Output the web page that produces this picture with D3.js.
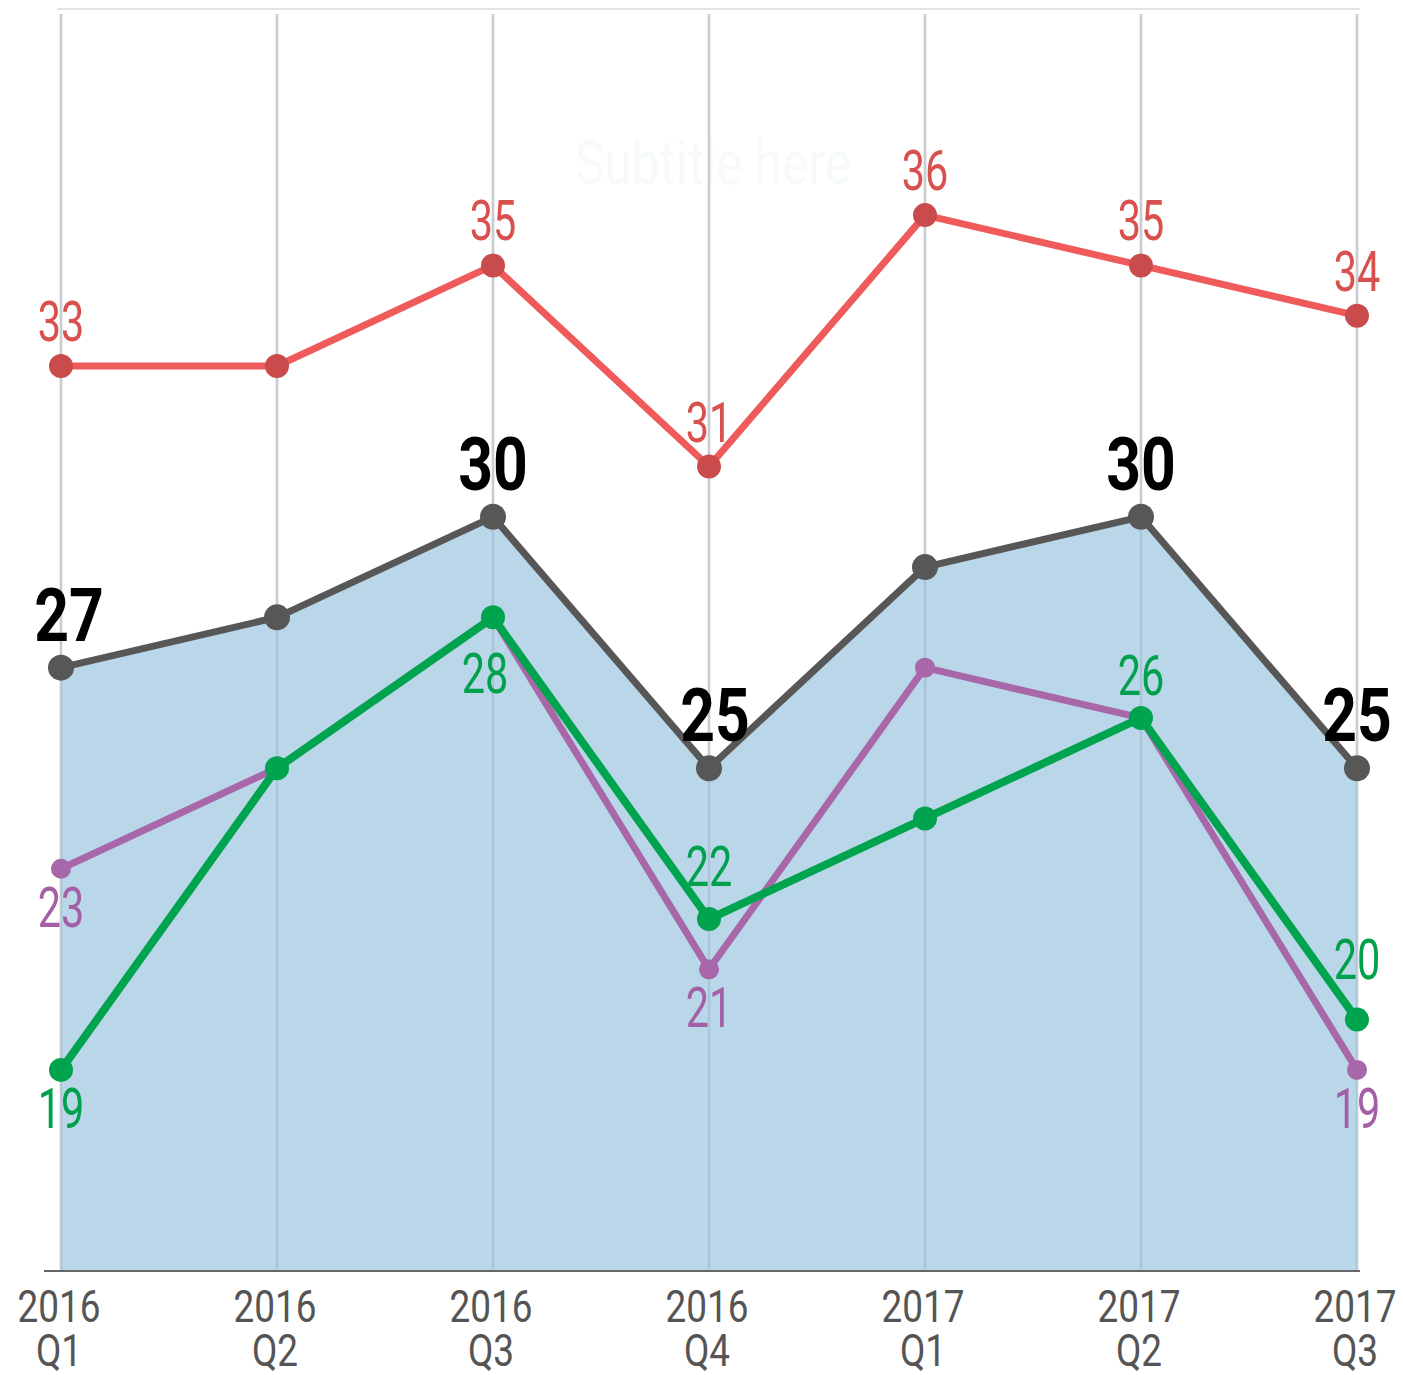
<!DOCTYPE html>
<html lang="en">
<head>
  <meta charset="UTF-8">
  <title>Quarterly lines</title>
  <script src="https://d3js.org/d3.v7.min.js"></script>
  <style>
    body { margin: 0; background: #fff; }
    text { font-family: Roboto, "Noto Sans", sans-serif; }
  </style>
</head>
<body>
<div id="graph-container"></div>

<script>
// quarters on the x axis
const years = ["2016", "2016", "2016", "2016", "2017", "2017", "2017"];
const quarters = ["Q1", "Q2", "Q3", "Q4", "Q1", "Q2", "Q3"];

// series values
const totalValues  = [27, 28, 30, 25, 29, 30, 25];
const redValues    = [33, 33, 35, 31, 36, 35, 34];
const purpleValues = [23, 25, 28, 21, 27, 26, 19];
const greenValues  = [19, 25, 28, 22, 24, 26, 20];

// which points get a value label ("a" above, "b" below)
const totalLabels  = ["a", "", "a", "a", "", "a", "a"];
const redLabels    = ["a", "", "a", "a", "a", "a", "a"];
const purpleLabels = ["b", "", "", "b", "", "", "b"];
const greenLabels  = ["b", "", "b", "a", "", "a", "a"];

// hand nudges for a few crowded labels [dx, dy]
const greenNudge = [[0, 0], [0, 0], [-8, 18], [0, -8], [0, 0], [0, 2], [0, -16]];
const totalNudge = [[8, 0], [0, 0], [0, 0], [6, 0], [0, 0], [0, 0], [0, 0]];

const width = 1403, height = 1375;

const svg = d3.select("#graph-container")
  .append("svg")
  .attr("width", width)
  .attr("height", height);

const x = d3.scalePoint()
  .domain(d3.range(years.length))
  .range([61, 1357]);

const y = d3.scaleLinear()
  .domain([15, 40])
  .range([1271, 14]);

// faint subtitle
svg.append("text")
  .attr("transform", "translate(713,184) scale(0.8,1)")
  .attr("text-anchor", "middle")
  .style("font-size", "62px")
  .style("fill", "#f7fbf7")
  .text("Subtitle here");

// top rule
svg.append("line")
  .attr("x1", 57).attr("x2", 1360)
  .attr("y1", 9).attr("y2", 9)
  .style("stroke", "#e2e2e2").style("stroke-width", 2);

// vertical gridlines
svg.selectAll(".grid")
  .data(x.domain())
  .enter()
  .append("line")
  .attr("class", "grid")
  .attr("x1", d => x(d)).attr("x2", d => x(d))
  .attr("y1", 14).attr("y2", y(15))
  .style("stroke", "#dcdcdc").style("stroke-width", 3);

// area under total
const area = d3.area()
  .x((d, i) => x(i))
  .y0(y(15))
  .y1(d => y(d));

svg.append("path")
  .datum(totalValues)
  .attr("d", area)
  .style("fill", "#a3c9e2")
  .style("fill-opacity", 0.75);

// gridlines showing through the area
svg.selectAll(".grid2")
  .data(x.domain())
  .enter()
  .append("line")
  .attr("x1", d => x(d)).attr("x2", d => x(d))
  .attr("y1", 14).attr("y2", y(15))
  .style("stroke", "#9fb7c8").style("stroke-width", 2)
  .style("opacity", 0.35);

// axis line
svg.append("line")
  .attr("x1", 44).attr("x2", 1360)
  .attr("y1", y(15)).attr("y2", y(15))
  .style("stroke", "#666").style("stroke-width", 2);

const line = d3.line()
  .x((d, i) => x(i))
  .y(d => y(d));

const noNudge = totalValues.map(() => [0, 0]);

const series = [
  { values: redValues,    labels: redLabels,    nudge: noNudge,    line: "#ef5b5b", dot: "#c94b4b", text: "#d9514f", width: 7, r: 12, size: 56, weight: 400, scale: 0.74 },
  { values: purpleValues, labels: purpleLabels, nudge: noNudge,    line: "#a867a9", dot: "#a867a9", text: "#a45fa6", width: 7, r: 10, size: 56, weight: 400, scale: 0.74 },
  { values: greenValues,  labels: greenLabels,  nudge: greenNudge, line: "#00a34e", dot: "#00a34e", text: "#00a04c", width: 8, r: 12, size: 56, weight: 400, scale: 0.74 },
  { values: totalValues,  labels: totalLabels,  nudge: totalNudge, line: "#575757", dot: "#575757", text: "#000000", width: 7, r: 13, size: 74, weight: 700, scale: 0.82 }
];

series.forEach(s => {
  svg.append("path")
    .datum(s.values)
    .attr("d", line)
    .style("fill", "none")
    .style("stroke", s.line)
    .style("stroke-width", s.width)
    .style("stroke-linejoin", "round");

  svg.selectAll(null)
    .data(s.values)
    .enter()
    .append("circle")
    .attr("cx", (d, i) => x(i))
    .attr("cy", d => y(d))
    .attr("r", s.r)
    .style("fill", s.dot);
});

series.forEach(s => {
  const big = s.weight === 700;
  svg.selectAll(null)
    .data(s.values.map((v, i) => ({ v, i, pos: s.labels[i] })).filter(d => d.pos))
    .enter()
    .append("text")
    .attr("text-anchor", "middle")
    .attr("transform", d => {
      const cx = x(d.i) + s.nudge[d.i][0];
      const cy = (d.pos === "a" ? y(d.v) - (big ? 27 : 25) : y(d.v) + 58) + s.nudge[d.i][1];
      return `translate(${cx},${cy}) scale(${s.scale},1)`;
    })
    .style("font-size", s.size + "px")
    .style("font-weight", s.weight)
    .style("fill", s.text)
    .text(d => d.v);
});

// x axis labels
const ticks = svg.selectAll(".tick")
  .data(x.domain())
  .enter()
  .append("g")
  .attr("transform", d => `translate(${x(d) - 2},0)`);

ticks.append("text")
  .attr("transform", "translate(0,1322) scale(0.84,1)")
  .attr("text-anchor", "middle")
  .style("font-size", "44px")
  .style("fill", "#555")
  .text(d => years[d]);

ticks.append("text")
  .attr("transform", "translate(0,1366) scale(0.84,1)")
  .attr("text-anchor", "middle")
  .style("font-size", "44px")
  .style("fill", "#555")
  .text(d => quarters[d]);
</script>
</body>
</html>
